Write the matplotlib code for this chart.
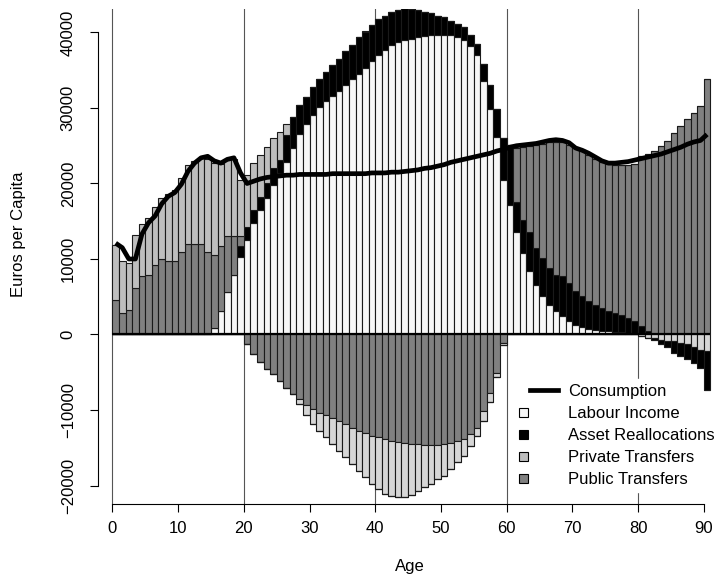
import numpy as np
import matplotlib
matplotlib.use("Agg")
import matplotlib.pyplot as plt
from matplotlib.lines import Line2D
from matplotlib.patches import Rectangle, Patch
from matplotlib.legend_handler import HandlerBase

plt.rcParams['font.family'] = ['Liberation Sans', 'DejaVu Sans']
plt.rcParams['font.size'] = 12

# =========================
# DATA (euros per capita, by age 0..90)
# =========================
ages = np.arange(0, 91)

labour = [0] * 15 + [
    900, 3170, 5590, 7920, 10200, 12540, 14740, 16500, 18130, 19800,
    21340, 22880, 24730, 26490, 27940, 29130, 30140, 30890, 31550, 32250,
    33000, 33790, 34540, 35290, 36170, 37050, 37710, 38280, 38720, 38940,
    39160, 39380, 39600, 39690, 39730, 39730, 39690, 39380, 38940, 38190,
    36960, 33530, 29920, 26180, 20460, 17160, 13640, 10780, 8360, 6600,
    5060, 3960, 3170, 2420, 1760, 1320, 1010, 790, 620, 500,
    440, 350, 300, 220, 150] + [0] * 11

asset = [0] * 19 + [
    1460, 1760, 1760, 1760, 1890, 2200, 1760, 3520, 4090, 3870,
    3500, 3650, 3740, 3870, 4090, 4270, 4490, 4580, 4840, 4840,
    4830, 4750, 4530, 4400, 4310, 4260, 3960, 3610, 3170, 2860,
    2510, 2290, 1890, 1760, 1760, 1500, 1540, 2330, 3080, 3740,
    5500, 7920, 3960, 4400, 5280, 4840, 5060, 4840, 4750, 5280,
    5060, 4380, 4050, 3610, 3340, 3020, 2640, 2510, 2340, 1980,
    1610, 1100, 440, -200, -500, -900, -1500, -1800, -2000, -2200,
    -2500, -5100]

private = [
    7300, 7000, 6200, 7100, 6900, 7500, 7700, 8100, 8900, 9300,
    9800, 10400, 11000, 11400, 12400, 12100, 10910, 10120, 10250, 7480,
    6820, 6160, 5500, 4840, 3960, 3740, 1540, 0, -660, -1360,
    -1890, -2420, -2950, -3520, -3960, -4400, -4840, -5280, -5810, -6380,
    -6820, -7260, -7350, -7260, -7130, -6690, -6160, -5630, -5190, -4530,
    -4180, -3390, -2770, -2200, -1540, -1100, -1320, -1230, -570, -310,
    0] + [0] * 19 + [
    -220, -440, -500, -700, -800, -900, -1100, -1300, -1600, -2000, -2200]

public = [
    4600, 2800, 3300, 6100, 7700, 7900, 9200, 10000, 9700, 9800,
    10900, 12000, 12000, 12000, 10900, 9660, 8490, 7390, 5060, 1320,
    -1320, -2640, -3610, -4620, -5280, -6160, -7040, -7830, -8580, -9330,
    -9900, -10340, -10690, -11000, -11440, -11880, -12320, -12760, -13110, -13420,
    -13640, -13860, -14080, -14300, -14430, -14520, -14520, -14610, -14610, -14610,
    -14520, -14430, -14170, -13860, -13200, -12320, -10120, -7700, -5060, -1100,
    0, 7130, 9680, 11350, 13640, 15050, 16630, 17600, 17730, 18260,
    18940, 19340, 19360, 19340, 19360, 19450, 19580, 19800, 20240, 20810,
    22500, 23460, 24300, 24950, 25600, 26700, 27600, 28500, 29350, 30200,
    33800]

consumption = [
    12100, 11500, 10000, 10000, 13300, 14800, 15700, 17300, 18300, 18800,
    19900, 21600, 22700, 23400, 23600, 23000, 22700, 23200, 23400, 21400,
    20000, 20300, 20600, 20800, 20900, 21000, 21100, 21100, 21200, 21200,
    21200, 21200, 21200, 21300, 21300, 21300, 21300, 21300, 21300, 21400,
    21400, 21400, 21500, 21500, 21600, 21700, 21800, 22000, 22100, 22300,
    22500, 22800, 23000, 23200, 23400, 23600, 23800, 24000, 24300, 24500,
    24800, 25000, 25100, 25200, 25300, 25500, 25700, 25800, 25700, 25400,
    24700, 24400, 24000, 23500, 23000, 22700, 22700, 22800, 22900, 23100,
    23300, 23500, 23700, 23900, 24200, 24500, 24800, 25200, 25500, 25700,
    26500]

series = {
    "Labour Income": np.array(labour, float),
    "Asset Reallocations": np.array(asset, float),
    "Private Transfers": np.array(private, float),
    "Public Transfers": np.array(public, float),
}
# positive / negative fills (the negative private bars are drawn lighter)
pos_colors = {
    "Labour Income": "#f7f7f7",
    "Asset Reallocations": "#000000",
    "Private Transfers": "#bebebe",
    "Public Transfers": "#808080",
}
neg_colors = dict(pos_colors)
neg_colors["Private Transfers"] = "#d6d6d6"
pos_order = ["Labour Income", "Asset Reallocations", "Public Transfers", "Private Transfers"]
neg_order = ["Public Transfers", "Private Transfers", "Asset Reallocations", "Labour Income"]

# =========================
# FIGURE
# =========================
W, H = 720, 577
fig = plt.figure(figsize=(W / 100, H / 100), dpi=100)
L, R, T, B = 98, 718, 9, 504
ax = fig.add_axes([L / W, 1 - B / H, (R - L) / W, (B - T) / H])
ax.set_xlim(-2.19, 92.17)
ax.set_ylim(-22450, 43110)

for a in [0, 20, 40, 60, 80]:
    ax.axvline(a, color="#555555", lw=0.8, zorder=1)

bottom = np.zeros(len(ages))
for name in pos_order:
    v = np.clip(series[name], 0, None)
    ax.bar(ages, v, width=1, align="edge", bottom=bottom, color=pos_colors[name],
           edgecolor="#1a1a1a", linewidth=0.8, zorder=2)
    bottom += v

bottom = np.zeros(len(ages))
for name in neg_order:
    v = np.clip(series[name], None, 0)
    ax.bar(ages, v, width=1, align="edge", bottom=bottom, color=neg_colors[name],
           edgecolor="#1a1a1a", linewidth=0.8, zorder=2)
    bottom += v

ax.hlines(0, 0, 91, color="black", lw=1.6, zorder=3)
ax.plot(ages + 0.5, consumption, color="black", lw=3.4, zorder=4,
        solid_joinstyle="round", solid_capstyle="butt")

# axes in R style
for s in ["top", "right"]:
    ax.spines[s].set_visible(False)
ax.spines["left"].set_bounds(-20000, 40000)
ax.spines["bottom"].set_bounds(0, 90)
ax.spines["left"].set_linewidth(0.8)
ax.spines["bottom"].set_linewidth(0.8)
ax.set_xticks(np.arange(0, 91, 10))
ax.set_yticks(np.arange(-20000, 40001, 10000))
ax.set_yticklabels([str(v) if v >= 0 else "\u2212" + str(-v) for v in range(-20000, 40001, 10000)],
                   rotation=90, va="center")
ax.tick_params(length=6, width=0.8, labelsize=12)
ax.tick_params(axis="y", pad=10)
ax.tick_params(axis="x", pad=6)

fig.text(19 / W, 1 - 234 / H, "Euros per Capita", rotation=90, ha="center", va="center", fontsize=12)
fig.text(410 / W, 1 - 566 / H, "Age", ha="center", va="center", fontsize=12)

# =========================
# LEGEND (boxes left, line right, like R)
# =========================
class BoxHandler(HandlerBase):
    def create_artists(self, legend, orig_handle, xd, yd, width, height, fontsize, trans):
        s = 6.5
        r = Rectangle((-xd, -yd + (height - s) / 2), s, s, facecolor=orig_handle.get_facecolor(),
                      edgecolor="black", lw=0.8, transform=trans)
        return [r]

class LineHandler(HandlerBase):
    def create_artists(self, legend, orig_handle, xd, yd, width, height, fontsize, trans):
        ln = Line2D([-xd + 7.5, -xd + width], [-yd + height / 2] * 2, color="black", lw=3.4,
                    transform=trans)
        return [ln]

cons_handle = Line2D([], [], color="black", lw=3.4)
box_handles = [Patch(facecolor=pos_colors[n], edgecolor="black") for n in
               ["Labour Income", "Asset Reallocations", "Private Transfers", "Public Transfers"]]
hmap = {cons_handle: LineHandler()}
for h in box_handles:
    hmap[h] = BoxHandler()
leg = ax.legend([cons_handle] + box_handles,
                ["Consumption", "Labour Income", "Asset Reallocations", "Private Transfers", "Public Transfers"],
                handler_map=hmap, loc="lower right", bbox_to_anchor=(720 / W, 1 - 492 / H),
                bbox_transform=fig.transFigure, frameon=True, fancybox=False, edgecolor="white",
                facecolor="white", framealpha=1, handlelength=2.3, handletextpad=0.65,
                labelspacing=0.42, borderpad=0.3, borderaxespad=0, fontsize=12)
# legend background hides the grid lines but sits under the bars
leg.set_zorder(1.5)

fig.savefig("out.png", dpi=100)
